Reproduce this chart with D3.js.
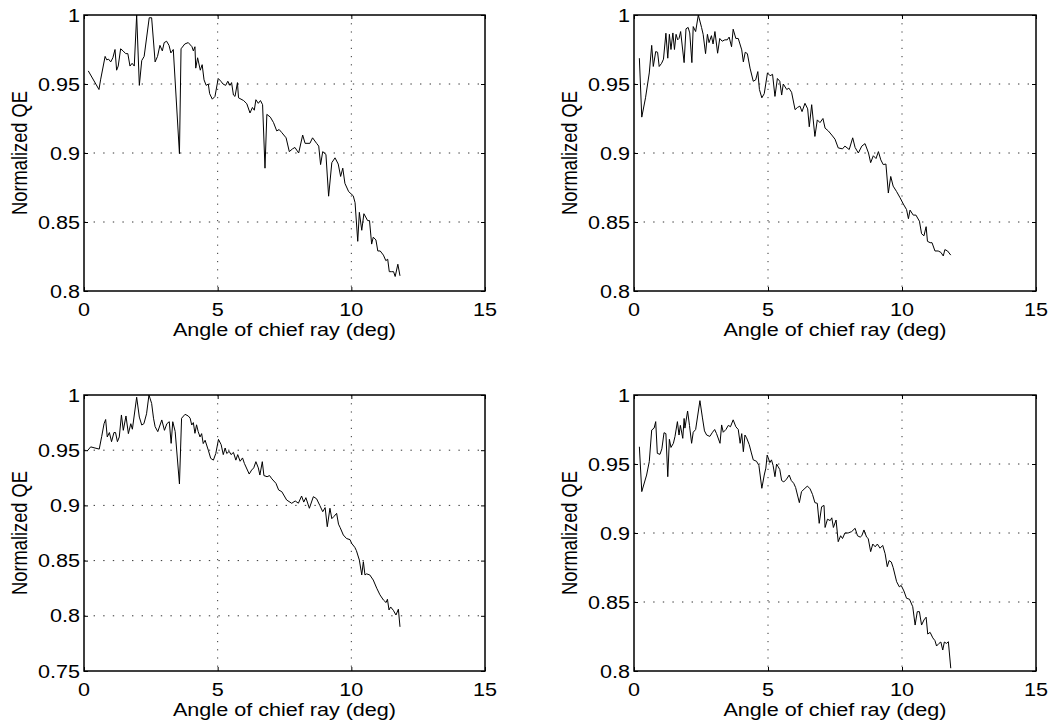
<!DOCTYPE html>
<html>
<head>
<meta charset="utf-8">
<script src="https://cdn.jsdelivr.net/npm/d3@7"></script>
<style>
  html, body { margin: 0; padding: 0; background: #fff; }
  svg text { font-family: "Liberation Sans", Arial, Helvetica, sans-serif; fill: #000; }
</style>
</head>
<body>
<div id="chart"></div>
<script>
// ---- data: [angle (deg), normalized QE] ----
var xTicks = [0, 5, 10, 15];
var yTicksA = [0.8, 0.85, 0.9, 0.95, 1];
var yTicksB = [0.75, 0.8, 0.85, 0.9, 0.95, 1];
var xTickLabels = ["0", "5", "10", "15"];
var yTickLabelsA = ["0.8", "0.85", "0.9", "0.95", "1"];
var yTickLabelsB = ["0.75", "0.8", "0.85", "0.9", "0.95", "1"];
var xTitle = "Angle of chief ray (deg)";
var yTitle = "Normalized QE";

var topLeft = [
  [0.16,0.9595],[0.56,0.946],[0.62,0.953],[0.79,0.970],[0.85,0.9675],[0.92,0.968],[1.00,0.966],[1.08,0.969],
  [1.16,0.975],[1.22,0.960],[1.28,0.963],[1.37,0.9755],[1.46,0.974],[1.56,0.972],[1.64,0.972],[1.72,0.963],
  [1.80,0.965],[1.88,0.963],[1.97,1.0],[2.07,0.949],[2.16,0.967],[2.25,0.970],[2.44,0.998],[2.53,0.998],
  [2.66,0.966],[2.75,0.970],[2.84,0.978],[2.93,0.974],[3.00,0.980],[3.09,0.981],[3.18,0.978],[3.25,0.9725],
  [3.34,0.975],[3.57,0.8995],[3.63,0.9755],[3.77,0.979],[3.90,0.980],[4.04,0.977],[4.09,0.974],[4.15,0.977],
  [4.18,0.9615],[4.25,0.969],[4.35,0.960],[4.42,0.964],[4.49,0.953],[4.57,0.949],[4.65,0.950],[4.70,0.943],
  [4.80,0.939],[4.90,0.941],[5.02,0.954],[5.12,0.952],[5.20,0.950],[5.30,0.949],[5.38,0.952],[5.46,0.949],
  [5.52,0.951],[5.59,0.942],[5.65,0.941],[5.74,0.951],[5.78,0.940],[5.97,0.938],[6.09,0.9357],[6.21,0.929],
  [6.30,0.933],[6.37,0.931],[6.43,0.9386],[6.52,0.936],[6.60,0.938],[6.68,0.935],[6.77,0.889],[6.84,0.928],
  [6.97,0.926],[7.09,0.922],[7.21,0.916],[7.30,0.917],[7.39,0.915],[7.56,0.911],[7.68,0.901],[7.80,0.903],
  [7.89,0.904],[8.03,0.900],[8.18,0.913],[8.27,0.907],[8.45,0.907],[8.55,0.911],[8.70,0.907],[8.78,0.905],
  [8.85,0.8916],[8.93,0.901],[9.05,0.899],[9.15,0.8687],[9.27,0.893],[9.39,0.8965],[9.51,0.892],[9.60,0.883],
  [9.68,0.889],[9.76,0.878],[9.90,0.872],[10.07,0.869],[10.14,0.864],[10.24,0.836],[10.30,0.857],[10.39,0.844],
  [10.47,0.856],[10.61,0.851],[10.68,0.851],[10.76,0.834],[10.82,0.839],[10.92,0.837],[10.99,0.829],[11.08,0.829],
  [11.20,0.826],[11.29,0.822],[11.36,0.823],[11.42,0.814],[11.51,0.814],[11.58,0.814],[11.64,0.8105],[11.74,0.8194],
  [11.82,0.811]
];

var topRight = [
  [0.20,0.9687],[0.29,0.926],[0.43,0.940],[0.57,0.958],[0.66,0.978],[0.72,0.9627],[0.81,0.9735],[0.88,0.973],
  [0.94,0.9627],[1.03,0.965],[1.10,0.968],[1.19,0.9868],[1.26,0.9687],[1.32,0.986],[1.38,0.975],[1.45,0.987],
  [1.51,0.975],[1.57,0.986],[1.63,0.982],[1.68,0.983],[1.74,0.988],[1.87,0.9655],[1.94,0.990],[2.02,0.991],
  [2.08,0.987],[2.16,0.9655],[2.21,0.9916],[2.30,0.988],[2.40,1.0],[2.52,0.991],[2.58,0.986],[2.67,0.972],
  [2.74,0.986],[2.80,0.980],[2.89,0.985],[2.95,0.979],[3.02,0.988],[3.12,0.9723],[3.20,0.983],[3.29,0.981],
  [3.39,0.982],[3.48,0.982],[3.55,0.984],[3.64,0.977],[3.70,0.9897],[3.80,0.983],[3.89,0.983],[4.02,0.9747],
  [4.08,0.966],[4.15,0.973],[4.23,0.972],[4.33,0.9615],[4.45,0.952],[4.54,0.953],[4.62,0.959],[4.68,0.946],
  [4.77,0.940],[4.86,0.943],[4.98,0.958],[5.08,0.956],[5.17,0.957],[5.26,0.941],[5.35,0.954],[5.44,0.952],
  [5.51,0.942],[5.57,0.950],[5.70,0.946],[5.78,0.947],[5.88,0.944],[6.01,0.9314],[6.10,0.933],[6.19,0.934],
  [6.27,0.930],[6.38,0.936],[6.48,0.932],[6.54,0.919],[6.63,0.935],[6.75,0.912],[6.84,0.924],[6.94,0.922],
  [7.05,0.925],[7.13,0.918],[7.25,0.916],[7.38,0.913],[7.50,0.910],[7.62,0.9037],[7.78,0.903],[7.87,0.905],
  [8.03,0.9025],[8.16,0.911],[8.25,0.904],[8.37,0.900],[8.50,0.905],[8.62,0.9068],[8.75,0.900],[8.83,0.893],
  [8.93,0.898],[9.03,0.896],[9.12,0.901],[9.21,0.895],[9.30,0.8916],[9.40,0.892],[9.49,0.871],[9.58,0.883],
  [9.67,0.876],[9.80,0.872],[9.93,0.8675],[10.05,0.863],[10.17,0.859],[10.24,0.8524],[10.30,0.8586],[10.42,0.855],
  [10.52,0.855],[10.65,0.8506],[10.73,0.8415],[10.82,0.840],[10.90,0.8466],[10.95,0.836],[11.05,0.835],[11.12,0.835],
  [11.23,0.829],[11.35,0.829],[11.45,0.828],[11.54,0.8254],[11.60,0.830],[11.70,0.829],[11.82,0.826]
];

var bottomLeft = [
  [0.12,0.9493],[0.25,0.953],[0.41,0.952],[0.57,0.951],[0.66,0.9622],[0.75,0.974],[0.81,0.9778],[0.87,0.962],
  [0.95,0.966],[1.03,0.9577],[1.12,0.966],[1.18,0.966],[1.25,0.9577],[1.32,0.962],[1.40,0.9819],[1.47,0.968],
  [1.57,0.981],[1.66,0.965],[1.75,0.974],[1.81,0.969],[1.97,0.998],[2.07,0.980],[2.16,0.9728],[2.24,0.974],
  [2.34,0.983],[2.43,1.0],[2.53,0.9924],[2.60,0.979],[2.66,0.9713],[2.76,0.9668],[2.91,0.9774],[3.01,0.968],
  [3.10,0.974],[3.19,0.9758],[3.26,0.9562],[3.32,0.9758],[3.41,0.967],[3.57,0.9194],[3.65,0.9789],[3.78,0.9825],
  [3.90,0.981],[3.97,0.979],[4.03,0.9728],[4.09,0.975],[4.15,0.9653],[4.21,0.973],[4.27,0.967],[4.34,0.962],
  [4.40,0.965],[4.46,0.956],[4.53,0.959],[4.65,0.950],[4.74,0.9426],[4.84,0.941],[4.93,0.947],[5.03,0.9598],
  [5.13,0.955],[5.21,0.946],[5.28,0.952],[5.34,0.947],[5.43,0.949],[5.50,0.946],[5.59,0.948],[5.68,0.941],
  [5.75,0.946],[5.84,0.940],[5.93,0.943],[6.00,0.938],[6.18,0.9284],[6.27,0.932],[6.35,0.934],[6.43,0.9396],
  [6.52,0.934],[6.58,0.9275],[6.67,0.9396],[6.73,0.927],[6.85,0.926],[6.94,0.927],[7.03,0.924],[7.18,0.920],
  [7.28,0.914],[7.40,0.9124],[7.58,0.9049],[7.77,0.9019],[7.90,0.904],[8.02,0.902],[8.14,0.9085],[8.22,0.903],
  [8.30,0.907],[8.43,0.8974],[8.58,0.9079],[8.70,0.906],[8.82,0.900],[8.93,0.8943],[9.02,0.898],[9.10,0.8807],
  [9.20,0.8974],[9.27,0.888],[9.35,0.890],[9.45,0.8928],[9.52,0.883],[9.58,0.880],[9.70,0.8732],[9.82,0.870],
  [9.95,0.869],[10.01,0.8657],[10.13,0.862],[10.19,0.859],[10.30,0.8505],[10.39,0.837],[10.45,0.849],[10.51,0.837],
  [10.57,0.838],[10.69,0.837],[10.82,0.8324],[10.95,0.825],[11.07,0.819],[11.20,0.8143],[11.30,0.812],[11.35,0.815],
  [11.41,0.8053],[11.47,0.808],[11.57,0.805],[11.67,0.8007],[11.76,0.806],[11.82,0.790]
];

var bottomRight = [
  [0.20,0.9625],[0.29,0.930],[0.47,0.942],[0.57,0.9517],[0.66,0.9746],[0.75,0.976],[0.81,0.9807],[0.87,0.9577],
  [0.97,0.957],[1.04,0.961],[1.12,0.9727],[1.19,0.972],[1.26,0.9408],[1.32,0.9679],[1.38,0.962],[1.47,0.965],
  [1.53,0.970],[1.62,0.9807],[1.68,0.971],[1.73,0.978],[1.82,0.9686],[1.87,0.983],[1.90,0.976],[2.00,0.9884],
  [2.07,0.978],[2.15,0.965],[2.21,0.973],[2.30,0.975],[2.46,0.9959],[2.55,0.984],[2.63,0.974],[2.71,0.971],
  [2.83,0.970],[2.93,0.973],[3.01,0.975],[3.08,0.972],[3.21,0.965],[3.27,0.9783],[3.33,0.973],[3.43,0.975],
  [3.52,0.978],[3.60,0.977],[3.70,0.982],[3.80,0.977],[3.89,0.975],[3.96,0.965],[4.02,0.972],[4.08,0.9589],
  [4.14,0.971],[4.20,0.969],[4.30,0.964],[4.38,0.958],[4.45,0.953],[4.57,0.952],[4.66,0.949],[4.77,0.9324],
  [4.86,0.942],[4.92,0.947],[4.97,0.9565],[5.07,0.951],[5.13,0.953],[5.19,0.949],[5.26,0.9408],[5.32,0.950],
  [5.38,0.948],[5.44,0.946],[5.51,0.938],[5.59,0.937],[5.69,0.939],[5.79,0.942],[5.87,0.938],[5.96,0.936],
  [6.03,0.933],[6.17,0.922],[6.25,0.930],[6.38,0.9324],[6.47,0.934],[6.57,0.932],[6.66,0.928],[6.75,0.922],
  [6.84,0.9215],[6.91,0.907],[7.00,0.919],[7.09,0.920],[7.13,0.904],[7.22,0.910],[7.32,0.909],[7.38,0.911],
  [7.44,0.904],[7.54,0.9094],[7.62,0.8937],[7.71,0.898],[7.78,0.896],[7.87,0.900],[7.99,0.900],[8.12,0.901],
  [8.25,0.9034],[8.34,0.898],[8.44,0.897],[8.50,0.898],[8.58,0.9022],[8.68,0.897],[8.74,0.896],[8.83,0.8865],
  [8.91,0.892],[9.00,0.890],[9.08,0.892],[9.18,0.889],[9.28,0.891],[9.37,0.885],[9.45,0.8756],[9.52,0.880],
  [9.60,0.879],[9.67,0.875],[9.80,0.8647],[9.90,0.861],[9.97,0.862],[10.07,0.858],[10.17,0.8527],[10.28,0.852],
  [10.40,0.8466],[10.49,0.8333],[10.57,0.843],[10.65,0.843],[10.73,0.8333],[10.82,0.837],[10.90,0.839],[10.96,0.8268],
  [11.05,0.828],[11.15,0.824],[11.23,0.822],[11.29,0.8181],[11.38,0.820],[11.45,0.821],[11.52,0.8152],[11.58,0.821],
  [11.66,0.820],[11.73,0.8212],[11.82,0.802]
];

function init(){
    var w = 1050, h = 724;
    var sx = 1.18; // the original figure is stretched horizontally
    var fs = 18.3;

    var svg = d3.select("#chart").append("svg")
                .attr("width", w).attr("height", h);

    // one entry per subplot: data, y domain, ticks, and the axes box in pixels
    var panels = [
        {data: topLeft,     yDom: [0.8, 1],  yt: yTicksA, yl: yTickLabelsA, x0: 84,  x1: 485,  y0: 15,  y1: 291},
        {data: topRight,    yDom: [0.8, 1],  yt: yTicksA, yl: yTickLabelsA, x0: 634, x1: 1036, y0: 15,  y1: 291},
        {data: bottomLeft,  yDom: [0.75, 1], yt: yTicksB, yl: yTickLabelsB, x0: 84,  x1: 485,  y0: 395, y1: 671},
        {data: bottomRight, yDom: [0.8, 1],  yt: yTicksA, yl: yTickLabelsA, x0: 634, x1: 1036, y0: 395, y1: 671}
    ];

    panels.forEach(function(p){
        var x = d3.scaleLinear().domain([0, 15]).range([p.x0, p.x1]);
        var y = d3.scaleLinear().domain(p.yDom).range([p.y1, p.y0]);
        var g = svg.append("g");

        // dotted grid at the interior ticks
        g.selectAll(".vgrid").data(xTicks.slice(1, -1)).enter().append("line")
            .attr("x1", function(d){ return x(d); }).attr("x2", function(d){ return x(d); })
            .attr("y1", p.y0).attr("y2", p.y1)
            .attr("stroke", "#000").attr("stroke-width", 0.8)
            .attr("stroke-dasharray", "1.2,7");
        g.selectAll(".hgrid").data(p.yt.slice(1, -1)).enter().append("line")
            .attr("x1", p.x0).attr("x2", p.x1)
            .attr("y1", function(d){ return y(d); }).attr("y2", function(d){ return y(d); })
            .attr("stroke", "#000").attr("stroke-width", 0.8)
            .attr("stroke-dasharray", "1.4,8.2");

        // inward ticks on all four sides
        var tk = 4;
        g.append("g").attr("transform", "translate(0," + p.y1 + ")")
            .call(d3.axisBottom(x).tickValues(xTicks).tickSize(-tk).tickFormat(""))
            .call(function(a){ a.select(".domain").remove(); });
        g.append("g").attr("transform", "translate(0," + p.y0 + ")")
            .call(d3.axisTop(x).tickValues(xTicks).tickSize(-tk).tickFormat(""))
            .call(function(a){ a.select(".domain").remove(); });
        g.append("g").attr("transform", "translate(" + p.x0 + ",0)")
            .call(d3.axisLeft(y).tickValues(p.yt).tickSize(-tk).tickFormat(""))
            .call(function(a){ a.select(".domain").remove(); });
        g.append("g").attr("transform", "translate(" + p.x1 + ",0)")
            .call(d3.axisRight(y).tickValues(p.yt).tickSize(-tk).tickFormat(""))
            .call(function(a){ a.select(".domain").remove(); });

        // the curve
        var line = d3.line()
            .x(function(d){ return x(d[0]); })
            .y(function(d){ return y(d[1]); });
        g.append("path").datum(p.data)
            .attr("d", line)
            .attr("fill", "none").attr("stroke", "#000")
            .attr("stroke-width", 1).attr("stroke-linejoin", "miter");

        // axes box
        g.append("rect")
            .attr("x", p.x0).attr("y", p.y0)
            .attr("width", p.x1 - p.x0).attr("height", p.y1 - p.y0)
            .attr("fill", "none").attr("stroke", "#000").attr("stroke-width", 1.5);

        // tick labels
        g.selectAll(".xl").data(xTicks).enter().append("text")
            .attr("transform", function(d){ return "translate(" + x(d) + "," + (p.y1 + 25) + ") scale(" + sx + ",1)"; })
            .attr("text-anchor", "middle").attr("font-size", fs)
            .text(function(d, i){ return xTickLabels[i]; });
        g.selectAll(".yl").data(p.yt).enter().append("text")
            .attr("transform", function(d){ return "translate(" + (p.x0 - 4) + "," + (y(d) + 6.5) + ") scale(" + sx + ",1)"; })
            .attr("text-anchor", "end").attr("font-size", fs)
            .text(function(d, i){ return p.yl[i]; });

        // axis titles
        g.append("text")
            .attr("transform", "translate(" + ((p.x0 + p.x1) / 2) + "," + (p.y1 + 45) + ") scale(" + sx + ",1)")
            .attr("text-anchor", "middle").attr("font-size", fs)
            .text(xTitle);
        g.append("text")
            .attr("transform", "translate(" + (p.x0 - 57) + "," + ((p.y0 + p.y1) / 2) + ") scale(" + sx + ",1) rotate(-90)")
            .attr("text-anchor", "middle").attr("font-size", fs)
            .text(yTitle);
    });
}
window.onload = init;
</script>
</body>
</html>
